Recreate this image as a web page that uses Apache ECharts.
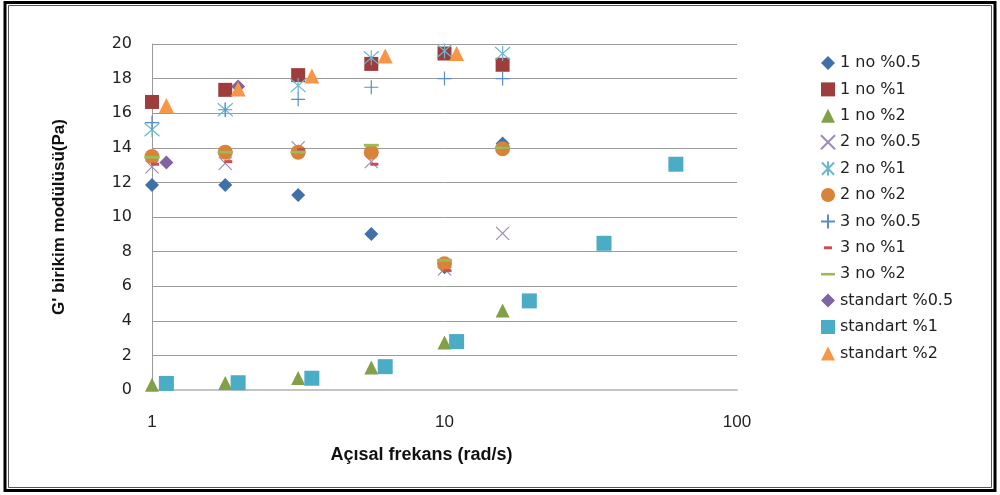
<!DOCTYPE html>
<html><head><meta charset="utf-8">
<script src="https://cdn.jsdelivr.net/npm/echarts@6/dist/echarts.min.js"></script>
<style>html,body{margin:0;padding:0;background:#fff}#c{width:1000px;height:495px}</style>
</head><body><div id="c"></div><script>
// ---- data ----
const seriesNames = ['1 no %0.5','1 no %1','1 no %2','2 no %0.5','2 no %1','2 no %2','3 no %0.5','3 no %1','3 no %2','standart %0.5','standart %1','standart %2'];
const freqSample = [1, 1.78, 3.16, 5.62, 10, 15.8];
const freqStd = [1.12, 1.97, 3.52, 6.27, 11.0, 19.5, 35.1, 61.8];
const no1_05 = [11.85, 11.85, 11.27, 9.02, 7.1, 14.25];
const no1_1  = [16.65, 17.35, 18.2, 18.85, 19.45, 18.8];
const no1_2  = [0.3, 0.4, 0.7, 1.3, 2.75, 4.6];
const no2_05 = [12.9, 13.1, 14.0, 13.2, 7.0, 9.05];
const no2_1  = [15.05, 16.2, 17.6, 19.2, 19.6, 19.45];
const no2_2  = [13.5, 13.75, 13.75, 13.75, 7.3, 13.95];
const no3_05 = [15.45, 16.2, 16.8, 17.5, 18.0, 18.0];
const no3_1  = [13.05, 13.2, 13.9, 13.05, 6.9, 14.0];
const no3_2  = [13.45, 13.75, 13.75, 14.15, 7.5, 14.0];
const std_05x = [1.12, 1.97];
const std_05 = [13.15, 17.55];
const std_1  = [0.38, 0.42, 0.68, 1.35, 2.8, 5.15, 8.48, 13.05];
const std_2  = [16.45, 17.4, 18.15, 19.3, 19.45];
const xTickLabels = ['1','10','100'];
const yTicks = [0,2,4,6,8,10,12,14,16,18,20];

function pairs(xs, ys){ return ys.map((v,i)=>[xs[i], v]); }

const SYM_X = 'path://M0 0L14 14M14 0L0 14';
const SYM_AST = 'path://M0 0L14 14M14 0L0 14M7 -1L7 15';
const SYM_PLUS = 'path://M7 0L7 14M0 7L14 7';
const SYM_DASH_S = 'path://M0 0M14 14M3 5.5H11V8.5H3Z';
const SYM_DASH_L = 'path://M0 0M14 14M0 5.7H14V8.3H0Z';

function filled(name, data, symbol, size, color, extra){
  return Object.assign({ type:'scatter', name, data, symbol, symbolSize:size,
    itemStyle:{color, opacity:1}, emphasis:{disabled:true} }, extra||{});
}
function stroked(name, data, symbol, size, color){
  return { type:'scatter', name, data, symbol, symbolSize:size,
    itemStyle:{color:color, borderColor:color, borderWidth:1.2, opacity:1}, emphasis:{disabled:true} };
}

const series = [
  filled(seriesNames[0], pairs(freqSample, no1_05), 'diamond', 14, '#4070A8'),
  filled(seriesNames[1], pairs(freqSample, no1_1), 'rect', 14, '#9E3D3B'),
  filled(seriesNames[2], pairs(freqSample, no1_2), 'triangle', 14, '#82A048'),
  stroked(seriesNames[3], pairs(freqSample, no2_05), SYM_X, 13, '#9C8ABC'),
  stroked(seriesNames[4], pairs(freqSample, no2_1), SYM_AST, 15, '#6AB8CF'),
  filled(seriesNames[5], pairs(freqSample, no2_2), 'circle', 15, '#D9823A'),
  stroked(seriesNames[6], pairs(freqSample, no3_05), SYM_PLUS, 14, '#5A8CCB'),
  filled(seriesNames[7], pairs(freqSample, no3_1), SYM_DASH_S, 14, '#C9504D', {symbolOffset:[3,0]}),
  filled(seriesNames[8], pairs(freqSample, no3_2), SYM_DASH_L, 15, '#9BBB59'),
  filled(seriesNames[9], pairs(std_05x, std_05), 'diamond', 14, '#8064A2'),
  filled(seriesNames[10], pairs(freqStd, std_1), 'rect', 15, '#4BACC6'),
  filled(seriesNames[11], pairs(freqStd, std_2), 'triangle', 15, '#F79646')
];

const chart = echarts.init(document.getElementById('c'), null, {renderer:'canvas'});
chart.setOption({
  backgroundColor:'#fff',
  animation:false,
  grid:{left:152, right:263, top:44, bottom:105, containLabel:false},
  xAxis:{
    type:'log', logBase:10, min:1, max:100,
    axisLine:{show:true, lineStyle:{color:'#c4c4c4', width:2}},
    axisTick:{show:false}, splitLine:{show:false}, minorTick:{show:false},
    axisLabel:{margin:24, color:'#222', fontSize:17, fontFamily:'"Liberation Sans Narrow","Liberation Sans",sans-serif',
      formatter:function(v){ const s=String(Math.round(v)); return xTickLabels.indexOf(s)>=0 ? s : ''; }},
    name:'Açısal frekans (rad/s)', nameLocation:'middle', nameGap:56,
    nameTextStyle:{color:'#111', fontSize:18, fontWeight:'bold', fontFamily:'"Liberation Sans Narrow","Liberation Sans",sans-serif', padding:[0,46,0,0]}
  },
  yAxis:{
    type:'value', min:yTicks[0], max:yTicks[yTicks.length-1], interval:2,
    axisLine:{show:true, lineStyle:{color:'#9a9a9a', width:1}},
    axisTick:{show:false},
    splitLine:{show:true, lineStyle:{color:'#9a9a9a', width:1}},
    axisLabel:{margin:20, color:'#222', fontSize:16, fontFamily:'"DejaVu Sans",sans-serif'},
    name:"G' birikim modülüsü(Pa)", nameLocation:'middle', nameGap:84, nameRotate:90,
    nameTextStyle:{color:'#111', fontSize:17, fontWeight:'bold', fontFamily:'"Liberation Sans Narrow","Liberation Sans",sans-serif'}
  },
  legend:{
    orient:'vertical', left:815, top:50, itemWidth:14, itemHeight:14, itemGap:10.4,
    data:seriesNames,
    textStyle:{color:'#222', fontSize:16, fontFamily:'"DejaVu Sans",sans-serif', padding:[0,0,0,0]},
    selectedMode:false
  },
  graphic:[
    {type:'rect', shape:{x:5, y:2.5, width:990, height:488}, style:{fill:'none', stroke:'#000', lineWidth:3}, silent:true},
    {type:'rect', shape:{x:8.5, y:5.5, width:983, height:482}, style:{fill:'none', stroke:'#555', lineWidth:1}, silent:true}
  ],
  series: series
});
</script></body></html>
